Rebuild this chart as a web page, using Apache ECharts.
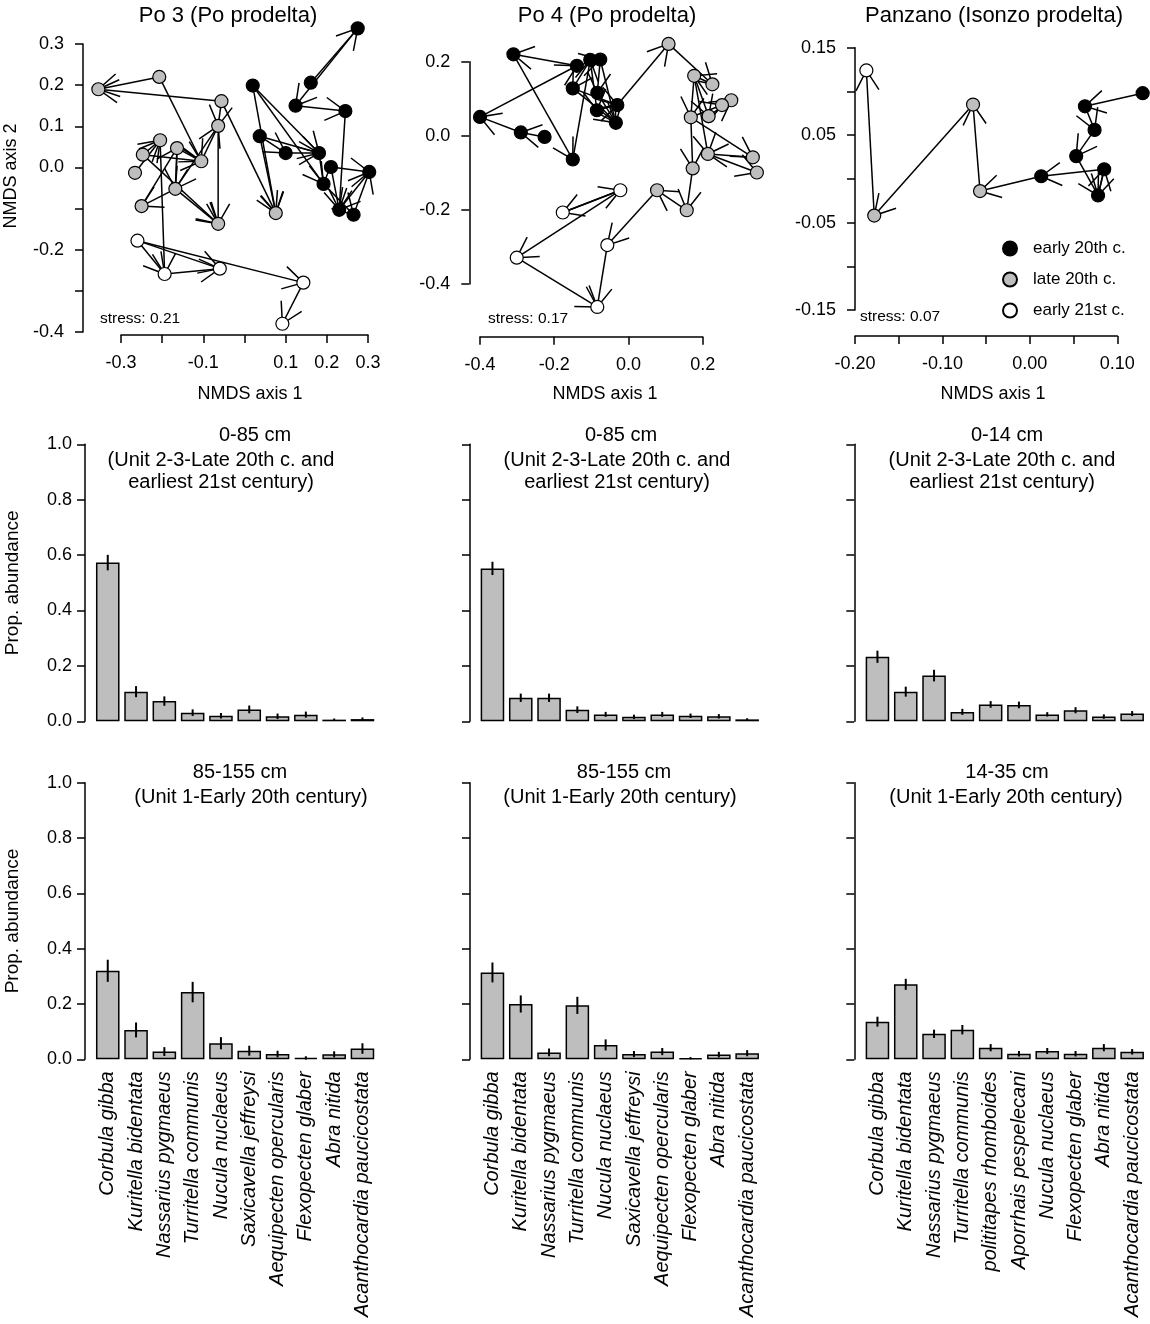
<!DOCTYPE html>
<html><head><meta charset="utf-8">
<script src="https://cdn.jsdelivr.net/npm/echarts@6/dist/echarts.min.js"></script>
<style>html,body{margin:0;padding:0;background:#fff}#main{width:1150px;height:1324px}</style>
</head><body><div id="main"></div>
<script>
// ---------------- data ----------------
const periods = ['early 20th c.', 'late 20th c.', 'early 21st c.'];
const nmdsTitles = ['Po 3 (Po prodelta)', 'Po 4 (Po prodelta)', 'Panzano (Isonzo prodelta)'];
const stressLabels = ['stress: 0.21', 'stress: 0.17', 'stress: 0.07'];

// Po 3 NMDS scores (period: 0 early 20th, 1 late 20th, 2 early 21st)
const po3X = [0.275,0.161,0.124,0.245,0.020,0.037,0.100,0.181,0.210,0.303,0.192,0.230,0.265,
  -0.355,-0.207,-0.056,-0.064,-0.205,-0.164,-0.247,-0.105,-0.266,-0.168,-0.250,-0.064,0.076,
  -0.260,-0.194,-0.060,0.143,0.092];
const po3Y = [0.338,0.206,0.150,0.137,0.199,0.076,0.035,0.035,0.001,-0.011,-0.040,-0.103,-0.115,
  0.190,0.220,0.161,0.101,0.066,0.047,0.031,0.015,-0.013,-0.052,-0.094,-0.137,-0.111,
  -0.178,-0.259,-0.246,-0.280,-0.380];
const po3Period = [0,0,0,0,0,0,0,0,0,0,0,0,0, 1,1,1,1,1,1,1,1,1,1,1,1,1, 2,2,2,2,2];
const po3Edges = [[1,0],[0,2],[2,3],[3,11],[4,7],[4,25],[5,6],[6,7],[5,25],[4,10],[7,10],[8,9],[9,11],[10,12],[8,11],[5,7],[12,9],
  [14,13],[15,13],[14,20],[15,25],[16,22],[16,24],[19,17],[19,20],[21,17],[17,27],[18,22],[22,23],[22,24],[19,24],[18,20],[23,18],[15,16],[20,16],
  [26,27],[26,28],[26,29],[27,28],[29,30]];

// Po 4 NMDS scores
const po4X = [-0.310,-0.139,-0.103,-0.076,-0.150,-0.084,-0.030,-0.085,-0.034,-0.400,-0.290,-0.226,-0.150,
  0.108,0.177,0.226,0.277,0.252,0.216,0.168,0.214,0.173,0.335,0.346,0.077,0.157,
  -0.022,-0.177,-0.057,-0.301,-0.084];
const po4Y = [0.220,0.189,0.205,0.206,0.128,0.116,0.083,0.069,0.035,0.051,0.009,-0.003,-0.064,
  0.248,0.162,0.139,0.096,0.083,0.053,0.050,-0.049,-0.088,-0.058,-0.099,-0.147,-0.201,
  -0.147,-0.207,-0.295,-0.329,-0.462];
const po4Period = [0,0,0,0,0,0,0,0,0,0,0,0,0, 1,1,1,1,1,1,1,1,1,1,1,1,1, 2,2,2,2,2];
const po4Edges = [[11,10],[10,9],[9,1],[1,0],[0,12],[12,2],[2,4],[4,8],[3,8],[2,7],[3,5],[5,8],[7,6],[1,3],[4,6],[6,13],
  [13,15],[15,14],[14,19],[14,18],[19,17],[18,16],[19,22],[22,20],[20,23],[19,21],[21,25],[14,20],[25,24],
  [24,28],[28,30],[29,30],[26,29],[27,26],[26,27]];

// Panzano NMDS scores
const panX = [0.129,0.063,0.074,0.053,0.078,0.085,0.013,-0.057,-0.065,-0.178,-0.187];
const panY = [0.098,0.083,0.056,0.026,-0.019,0.011,0.003,-0.014,0.085,-0.042,0.124];
const panPeriod = [0,0,0,0,0,0,0,1,1,1,2];
const panEdges = [[0,1],[1,2],[2,3],[3,4],[4,5],[5,4],[5,6],[6,7],[7,8],[8,9],[9,10]];

// Bar charts: proportional abundance (mean and error half-width)
const catsPo = ['Corbula gibba','Kuritella bidentata','Nassarius pygmaeus','Turritella communis','Nucula nuclaeus',
  'Saxicavella jeffreysi','Aequipecten opercularis','Flexopecten glaber','Abra nitida','Acanthocardia paucicostata'];
const catsPanzano = ['Corbula gibba','Kuritella bidentata','Nassarius pygmaeus','Turritella communis','polititapes rhomboides',
  'Aporrhais pespelecani','Nucula nuclaeus','Flexopecten glaber','Abra nitida','Acanthocardia paucicostata'];
const upperTitles1 = ['0-85 cm', '0-85 cm', '0-14 cm'];
const upperTitles2 = '(Unit 2-3-Late 20th c. and\nearliest 21st century)';
const lowerTitles1 = ['85-155 cm', '85-155 cm', '14-35 cm'];
const lowerTitles2 = '(Unit 1-Early 20th century)';

const po3UpperMean = [0.573,0.107,0.073,0.031,0.020,0.043,0.018,0.024,0.006,0.008];
const po3UpperErr  = [0.028,0.020,0.017,0.012,0.010,0.014,0.010,0.011,0.004,0.006];
const po4UpperMean = [0.552,0.085,0.085,0.042,0.025,0.016,0.025,0.020,0.018,0.007];
const po4UpperErr  = [0.024,0.015,0.015,0.012,0.009,0.008,0.009,0.008,0.008,0.004];
const panUpperMean = [0.233,0.107,0.165,0.034,0.061,0.059,0.025,0.040,0.017,0.028];
const panUpperErr  = [0.022,0.018,0.021,0.011,0.012,0.012,0.008,0.011,0.008,0.009];
const po3LowerMean = [0.320,0.106,0.028,0.243,0.058,0.031,0.019,0.005,0.018,0.039];
const po3LowerErr  = [0.040,0.027,0.016,0.037,0.022,0.018,0.012,0.006,0.011,0.019];
const po4LowerMean = [0.314,0.200,0.025,0.195,0.052,0.019,0.028,0.004,0.017,0.022];
const po4LowerErr  = [0.036,0.031,0.014,0.031,0.020,0.011,0.013,0.004,0.010,0.011];
const panLowerMean = [0.136,0.271,0.092,0.107,0.042,0.020,0.030,0.020,0.042,0.027];
const panLowerErr  = [0.018,0.020,0.015,0.017,0.013,0.010,0.011,0.010,0.013,0.010];

// ---------------- layout & style ----------------
const FONT = '"Liberation Sans", Arial, Helvetica, sans-serif';
const fills = ['#000000', '#bebebe', '#ffffff'];

const nmdsLayout = [
  {left:121, right:368, top:44, bottom:332, xMin:-0.3, xMax:0.3, xInt:0.1, yMin:-0.4, yMax:0.3, yInt:0.1,
   xOff:3, yOff:38, dec:1, xHide:['-0.2','0.0'], yHide:['-0.1','-0.3'], yName:'NMDS axis 2',
   titleX:228, axisNameX:250, stressX:100, stressTop:309.5},
  {left:480, right:702.7, top:61.7, bottom:284, xMin:-0.4, xMax:0.2, xInt:0.2, yMin:-0.4, yMax:0.2, yInt:0.2,
   xOff:52.7, yOff:10.7, dec:1, xHide:[], yHide:[], yName:'',
   titleX:607, axisNameX:605, stressX:488, stressTop:309.5},
  {left:855, right:1117.3, top:47.7, bottom:310, xMin:-0.2, xMax:0.1, xInt:0.05, yMin:-0.15, yMax:0.15, yInt:0.05,
   xOff:26, yOff:0, dec:2, xHide:['-0.15','-0.05','0.05'], yHide:['0.10','0.00','-0.10'], yName:'',
   titleX:994, axisNameX:993, stressX:860, stressTop:308}
];
const barCols = [
  {left:93.6, axisX:85, t1:[255,240], t2:[221,251]},
  {left:478.3, axisX:470, t1:[621,624], t2:[617,620]},
  {left:863.3, axisX:854.3, t1:[1007,1007], t2:[1002,1006]}
];
const barRows = [{top:444.3, height:277, t1Top:424, t2Top:449}, {top:782.7, height:276.6, t1Top:761, t2Top:786}];
const barWidthPx = 283;

function fmt(dec, hide) {
  return function (v) {
    const r = Math.abs(v) < 1e-9 ? 0 : v;
    const s = r.toFixed(dec);
    return hide.indexOf(s) >= 0 ? '' : s;
  };
}
function axisBase() {
  return {
    axisLine: {show: true, onZero: false, lineStyle: {color: '#000', width: 1.5}},
    axisTick: {show: true, length: 8, inside: false, lineStyle: {color: '#000', width: 1.5}},
    splitLine: {show: false}, splitArea: {show: false}
  };
}
function arrowRender(params, api) {
  const p1 = api.coord([api.value(0), api.value(1)]);
  const p2 = api.coord([api.value(2), api.value(3)]);
  const ang = Math.atan2(p2[1] - p1[1], p2[0] - p1[0]);
  const L = 23, a = Math.PI / 6;
  const h1 = [p2[0] - L * Math.cos(ang - a), p2[1] - L * Math.sin(ang - a)];
  const h2 = [p2[0] - L * Math.cos(ang + a), p2[1] - L * Math.sin(ang + a)];
  return {type: 'group', children: [
    {type: 'line', shape: {x1: p1[0], y1: p1[1], x2: p2[0], y2: p2[1]}, style: {stroke: '#000', lineWidth: 1.5}},
    {type: 'polyline', shape: {points: [h1, p2, h2]}, style: {stroke: '#000', fill: null, lineWidth: 1.5}}
  ]};
}
function errRender(params, api) {
  const i = api.value(0);
  const lo = api.coord([i, api.value(1)]);
  const hi = api.coord([i, api.value(2)]);
  return {type: 'line', shape: {x1: lo[0], y1: lo[1], x2: hi[0], y2: hi[1]}, style: {stroke: '#000', lineWidth: 2}};
}
function T(text, x, top, size, lh, align) {
  return {text: text, left: x, top: top, textAlign: align || 'center', padding: 0,
    textStyle: {fontSize: size, fontWeight: 'normal', color: '#000', fontFamily: FONT, lineHeight: lh}};
}

const grids = [], xAxes = [], yAxes = [], series = [], titles = [];

// ---------------- NMDS panels ----------------
const nmdsPanels = [
  {X: po3X, Y: po3Y, P: po3Period, E: po3Edges},
  {X: po4X, Y: po4Y, P: po4Period, E: po4Edges},
  {X: panX, Y: panY, P: panPeriod, E: panEdges}
];
nmdsPanels.forEach(function (pn, k) {
  const L = nmdsLayout[k];
  grids.push({left: L.left, top: L.top, width: L.right - L.left, height: L.bottom - L.top, containLabel: false, outerBoundsMode: 'none'});
  const gi = grids.length - 1;
  xAxes.push(Object.assign(axisBase(), {gridIndex: gi, type: 'value', position: 'bottom', min: L.xMin, max: L.xMax, interval: L.xInt, offset: L.xOff,
    axisLabel: {formatter: fmt(L.dec, L.xHide), fontSize: 18, color: '#000', fontFamily: FONT, margin: 19, showMinLabel: true, showMaxLabel: true, hideOverlap: false}}));
  yAxes.push(Object.assign(axisBase(), {gridIndex: gi, type: 'value', position: 'left', min: L.yMin, max: L.yMax, interval: L.yInt, offset: L.yOff,
    axisLabel: {formatter: fmt(L.dec, L.yHide), fontSize: 18, color: '#000', fontFamily: FONT, margin: 19, showMinLabel: true, showMaxLabel: true, hideOverlap: false},
    name: L.yName, nameLocation: 'middle', nameGap: 63, nameRotate: 90,
    nameTextStyle: {fontSize: 18, color: '#000', fontFamily: FONT, padding: [0, 0, 0, 24]}}));
  const ai = xAxes.length - 1;
  series.push({type: 'custom', xAxisIndex: ai, yAxisIndex: ai, renderItem: arrowRender, silent: true, z: 2,
    encode: {x: [0, 2], y: [1, 3]},
    data: pn.E.map(function (e) { return [pn.X[e[0]], pn.Y[e[0]], pn.X[e[1]], pn.Y[e[1]]]; })});
  [0, 1, 2].forEach(function (p) {
    const d = [];
    pn.X.forEach(function (x, i) { if (pn.P[i] === p) d.push([x, pn.Y[i]]); });
    if (!d.length) return;
    series.push({type: 'scatter', name: periods[p], xAxisIndex: ai, yAxisIndex: ai, data: d, symbol: 'circle', symbolSize: 13,
      itemStyle: {color: fills[p], borderColor: '#000', borderWidth: 1.2, opacity: 1}, clip: false, silent: true, z: 3,
      emphasis: {disabled: true}});
  });
  titles.push(T(nmdsTitles[k], L.titleX, 4, 22, 23));
  titles.push(T('NMDS axis 1', L.axisNameX, 384, 18, 20));
  titles.push(T(stressLabels[k], L.stressX, L.stressTop, 15.5, 18, 'left'));
});

// ---------------- Bar panels ----------------
const barData = [
  [{m: po3UpperMean, e: po3UpperErr, c: catsPo}, {m: po4UpperMean, e: po4UpperErr, c: catsPo}, {m: panUpperMean, e: panUpperErr, c: catsPanzano}],
  [{m: po3LowerMean, e: po3LowerErr, c: catsPo}, {m: po4LowerMean, e: po4LowerErr, c: catsPo}, {m: panLowerMean, e: panLowerErr, c: catsPanzano}]
];
barRows.forEach(function (R, r) {
  barCols.forEach(function (C, c) {
    const bd = barData[r][c];
    grids.push({left: C.left, top: R.top, width: barWidthPx, height: R.height, containLabel: false, outerBoundsMode: 'none'});
    const gi = grids.length - 1;
    xAxes.push({gridIndex: gi, type: 'category', data: bd.c, position: 'bottom',
      axisLine: {show: false}, axisTick: {show: false}, splitLine: {show: false},
      axisLabel: {show: r === 1, interval: 0, rotate: 90, fontStyle: 'italic', fontSize: 20, color: '#000', fontFamily: FONT, margin: 12, hideOverlap: false}});
    yAxes.push(Object.assign(axisBase(), {gridIndex: gi, type: 'value', position: 'left', min: 0, max: 1, interval: 0.2, offset: C.left - C.axisX,
      axisLabel: {show: c === 0, formatter: fmt(1, []), fontSize: 18, color: '#000', fontFamily: FONT, margin: 13, showMinLabel: true, showMaxLabel: true},
      name: c === 0 ? 'Prop. abundance' : '', nameLocation: 'middle', nameGap: 63, nameRotate: 90,
      nameTextStyle: {fontSize: 19, color: '#000', fontFamily: FONT}}));
    const ai = xAxes.length - 1;
    series.push({type: 'bar', xAxisIndex: ai, yAxisIndex: ai, data: bd.m, barCategoryGap: '16.7%', silent: true, z: 2,
      itemStyle: {color: '#bebebe', borderColor: '#000', borderWidth: 1.5}, emphasis: {disabled: true}});
    series.push({type: 'custom', xAxisIndex: ai, yAxisIndex: ai, renderItem: errRender, silent: true, z: 4,
      encode: {x: 0, y: [1, 2]},
      data: bd.m.map(function (m, i) { return [i, m - bd.e[i], m + bd.e[i]]; })});
    titles.push(T(r === 0 ? upperTitles1[c] : lowerTitles1[c], C.t1[r], R.t1Top, 20, 22));
    titles.push(T(r === 0 ? upperTitles2 : lowerTitles2, C.t2[r], R.t2Top, 20, 22));
  });
});

const chart = echarts.init(document.getElementById('main'), null, {renderer: 'canvas', width: 1150, height: 1324});
chart.setOption({
  animation: false,
  backgroundColor: '#ffffff',
  textStyle: {fontFamily: FONT, color: '#000'},
  title: titles,
  legend: {data: periods, orient: 'vertical', left: 1002, top: 240, itemWidth: 14, itemHeight: 14, itemGap: 14,
    icon: 'circle', selectedMode: false, padding: 0,
    textStyle: {fontSize: 17, color: '#000', fontFamily: FONT, padding: [0, 0, 0, 11]}},
  grid: grids,
  xAxis: xAxes,
  yAxis: yAxes,
  series: series
});
</script></body></html>
